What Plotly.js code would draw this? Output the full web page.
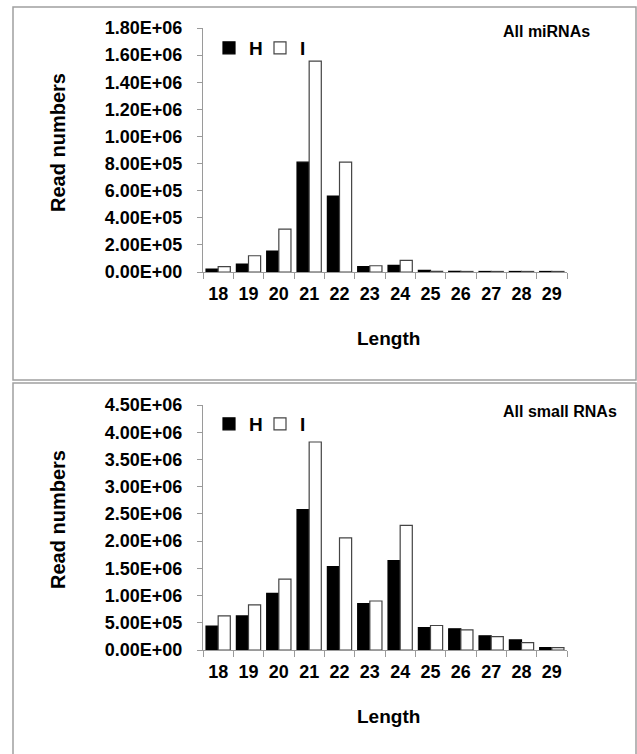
<!DOCTYPE html>
<html><head><meta charset="utf-8">
<script src="https://cdn.plot.ly/plotly-3.0.1.min.js"></script>
<style>html,body{margin:0;padding:0;background:#fff;} #chart{width:637px;height:754px;}</style>
</head><body><div id="chart"></div>
<script>
// ---- data ----
const lengths = ["18","19","20","21","22","23","24","25","26","27","28","29"];
const mirnaH = [22000, 59000, 155000, 810000, 560000, 39000, 49000, 12000, 5000, 4000, 4000, 4000];
const mirnaI = [39000, 120000, 317000, 1555000, 810000, 46000, 86000, 5000, 4000, 4000, 4000, 4000];
const smallH = [440000, 625000, 1040000, 2580000, 1530000, 850000, 1640000, 410000, 390000, 260000, 185000, 42000];
const smallI = [625000, 830000, 1300000, 3820000, 2060000, 900000, 2290000, 450000, 370000, 245000, 135000, 45000];
const topTickVals = [0, 200000, 400000, 600000, 800000, 1000000, 1200000, 1400000, 1600000, 1800000];
const topTickText = ["0.00E+00","2.00E+05","4.00E+05","6.00E+05","8.00E+05","1.00E+06","1.20E+06","1.40E+06","1.60E+06","1.80E+06"];
const botTickVals = [0, 500000, 1000000, 1500000, 2000000, 2500000, 3000000, 3500000, 4000000, 4500000];
const botTickText = ["0.00E+00","5.00E+05","1.00E+06","1.50E+06","2.00E+06","2.50E+06","3.00E+06","3.50E+06","4.00E+06","4.50E+06"];
const seriesNames = ["H", "I"];
const panelTitles = ["All miRNAs", "All small RNAs"];
const xTitle = "Length";
const yTitle = "Read numbers";

// ---- layout helpers ----
const W = 637, H = 754;
const px = x => x / W;
const py = y => 1 - y / H;
const FAM = "Liberation Sans, Arial, sans-serif";
const AX = "#9a9a9a";

function bar(name, y, xa, ya, leg, fill) {
  return {
    type: "bar", name: name, x: lengths, y: y, xaxis: xa, yaxis: ya, legend: leg,
    showlegend: true,
    marker: {color: fill, line: {color: fill === "#000000" ? "#000000" : "#444444", width: 1.2}},
    hoverinfo: "x+y"
  };
}

const traces = [
  bar(seriesNames[0], mirnaH, "x", "y", "legend", "#000000"),
  bar(seriesNames[1], mirnaI, "x", "y", "legend", "#ffffff"),
  bar(seriesNames[0], smallH, "x2", "y2", "legend2", "#000000"),
  bar(seriesNames[1], smallI, "x2", "y2", "legend2", "#ffffff")
];

function xaxis(anchor) {
  return {
    domain: [px(203), px(567)], anchor: anchor, type: "category",
    showline: true, linecolor: AX, linewidth: 1,
    ticks: "outside", tickson: "boundaries", ticklen: 6, tickcolor: AX, tickwidth: 1,
    tickangle: 0,
    tickfont: {family: FAM, size: 18, color: "#000", weight: "bold"},
    ticklabelstandoff: 5,
    showgrid: false, zeroline: false, fixedrange: true
  };
}
function yaxis(anchor, dom, maxv, vals, text) {
  return {
    domain: dom, anchor: anchor, range: [0, maxv],
    tickmode: "array", tickvals: vals, ticktext: text,
    showline: true, linecolor: AX, linewidth: 1,
    ticks: "outside", ticklen: 5, tickcolor: AX, tickwidth: 1,
    tickfont: {family: FAM, size: 18, color: "#000", weight: "bold"},
    ticklabelstandoff: 11,
    showgrid: false, zeroline: false, fixedrange: true
  };
}

const txt = (t, x, y, size, extra) => Object.assign({
  text: t, xref: "paper", yref: "paper", x: x, y: y, showarrow: false,
  font: {family: FAM, size: size, color: "#000", weight: "bold"}
}, extra || {});

function legendAt(yPix) {
  return {orientation: "h", x: px(209), y: py(yPix), xanchor: "left", yanchor: "middle",
    font: {family: FAM, size: 19, color: "#000", weight: "bold"}, bgcolor: "rgba(0,0,0,0)",
    itemwidth: 30, tracegroupgap: 0, entrywidth: 6, entrywidthmode: "pixels"};
}

const layout = {
  width: W, height: H,
  margin: {l: 0, r: 0, t: 0, b: 0},
  paper_bgcolor: "#fff", plot_bgcolor: "#fff",
  barmode: "group", bargap: 0.2, bargroupgap: 0,
  xaxis: xaxis("y"),
  yaxis: yaxis("x", [py(272), py(28)], 1800000, topTickVals, topTickText),
  xaxis2: xaxis("y2"),
  yaxis2: yaxis("x2", [py(650), py(405)], 4500000, botTickVals, botTickText),
  legend: legendAt(48),
  legend2: legendAt(424),
  annotations: [
    txt(panelTitles[0], px(501), py(31), 16, {xanchor: "left", yanchor: "middle"}),
    txt(panelTitles[1], px(501), py(411), 16, {xanchor: "left", yanchor: "middle"}),
    txt(xTitle, px(388), py(338), 19, {xanchor: "center", yanchor: "middle"}),
    txt(xTitle, px(388), py(716), 19, {xanchor: "center", yanchor: "middle"}),
    txt(yTitle, px(58), py(143), 20, {xanchor: "center", yanchor: "middle", textangle: -90}),
    txt(yTitle, px(58), py(520), 20, {xanchor: "center", yanchor: "middle", textangle: -90})
  ],
  shapes: [
    {type: "rect", xref: "paper", yref: "paper", x0: px(13), x1: px(636), y0: py(380), y1: py(7),
     line: {color: "#a0a0a0", width: 1.5}, layer: "below"},
    {type: "rect", xref: "paper", yref: "paper", x0: px(13), x1: px(636), y0: py(770), y1: py(383),
     line: {color: "#a0a0a0", width: 1.5}, layer: "below"}
  ]
};

Plotly.newPlot("chart", traces, layout, {displayModeBar: false, staticPlot: true});
</script>
</body></html>
